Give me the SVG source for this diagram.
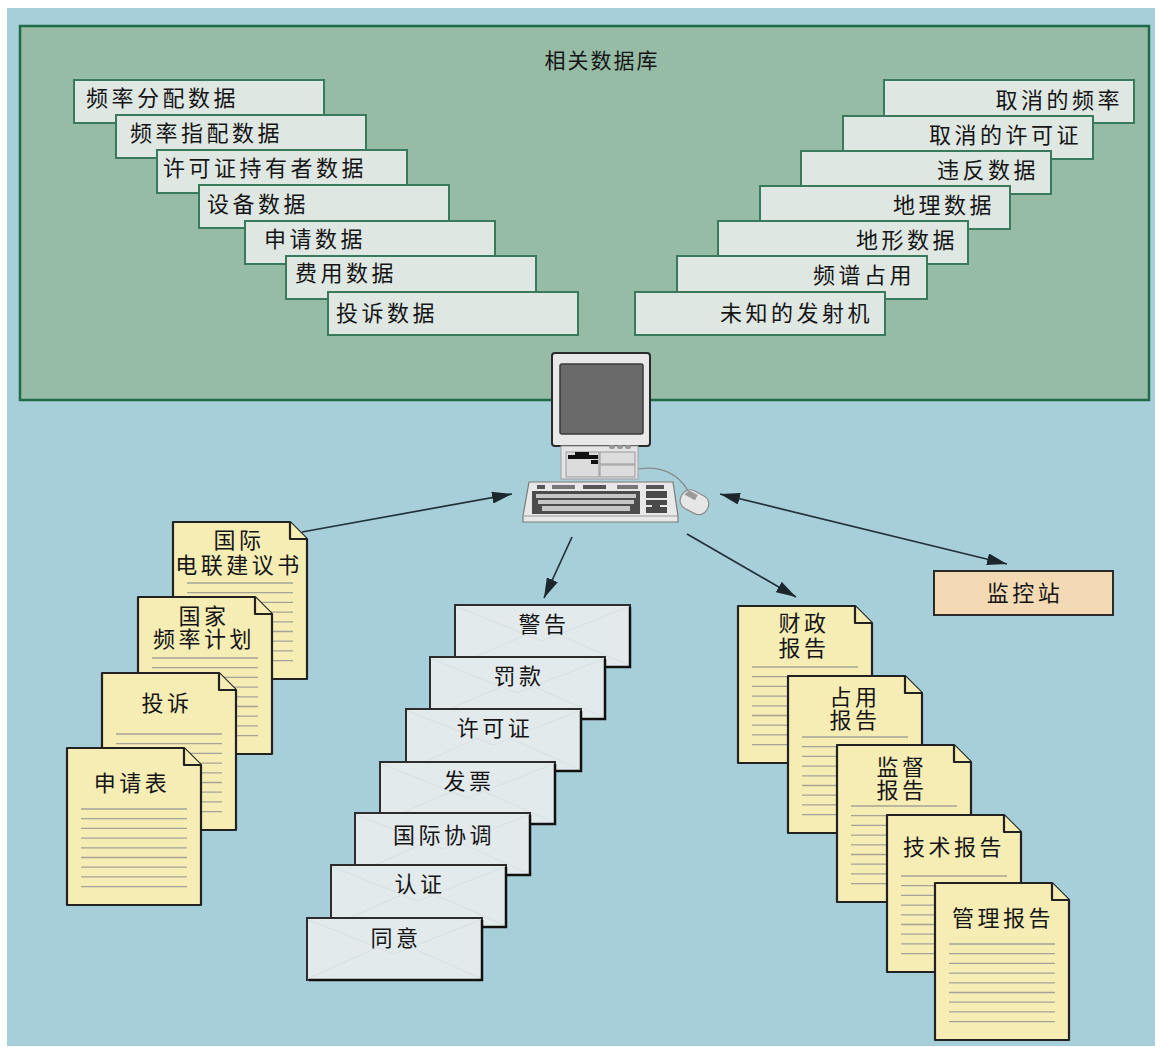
<svg xmlns="http://www.w3.org/2000/svg" width="1160" height="1047" viewBox="0 0 1160 1047">
  <style>
    text { font-family: "Noto Sans CJK SC", "Noto Sans", sans-serif; fill: #151515; }
    .t22 { font-size: 22px; letter-spacing: 3.5px; }
    .title { font-size: 21px; letter-spacing: 2px; }
    .db { fill: #dfe7e3; stroke: #3a7a5c; stroke-width: 2; }
    .env { fill: #e3eaec; stroke: #2c2c2c; stroke-width: 2; }
    .envln { stroke: #d8e0e3; stroke-width: 1; fill: none; }
    .doc { fill: #f6edb5; stroke: #222; stroke-width: 2.2; stroke-linejoin: round; }
    .docln { stroke: #a3a399; stroke-width: 1.3; }
    .conn { stroke: #22313a; stroke-width: 1.7; fill: none; }
  </style>
  <defs>
    <marker id="ah" viewBox="0 0 20 12" refX="20" refY="6" markerWidth="20" markerHeight="12" markerUnits="userSpaceOnUse" orient="auto-start-reverse">
      <path d="M0,0 L20,6 L0,12 Z" fill="#1b262d"/>
    </marker>
    <!-- paper sheet with a dog-eared corner and ruled lines -->
    <symbol id="sheet" viewBox="-2 -2 138 161" width="138" height="161" overflow="visible">
      <path class="doc" d="M0,0 H117 L134,17 V157 H0 Z"/>
      <path class="doc" d="M117,0 V17 H134"/>
      <g class="docln">
        <line x1="14" x2="120" y1="61" y2="61"/>
        <line x1="14" x2="120" y1="70.7" y2="70.7"/>
        <line x1="14" x2="120" y1="80.4" y2="80.4"/>
        <line x1="14" x2="120" y1="90.1" y2="90.1"/>
        <line x1="14" x2="120" y1="99.8" y2="99.8"/>
        <line x1="14" x2="120" y1="109.5" y2="109.5"/>
        <line x1="14" x2="120" y1="119.2" y2="119.2"/>
        <line x1="14" x2="120" y1="128.9" y2="128.9"/>
        <line x1="14" x2="120" y1="138.6" y2="138.6"/>
      </g>
    </symbol>
    <!-- envelope with faint flap creases -->
    <symbol id="envelope" viewBox="-2 -2 179 66" width="179" height="66" overflow="visible">
      <rect class="env" x="0" y="0" width="175" height="62"/>
      <path class="envln" d="M2,2 L87,36 L173,2 M2,60 L70,30 M173,60 L105,30"/>
      <path d="M175,2 V62 H2" stroke="#111" stroke-width="2.5" fill="none"/>
    </symbol>
  </defs>

  <!-- background -->
  <rect x="0" y="0" width="1160" height="1047" fill="#ffffff"/>
  <rect x="7" y="8" width="1148" height="1038" fill="#a7cfd9"/>

  <!-- database panel -->
  <g id="database-panel">
    <rect x="20" y="26" width="1129" height="374" fill="#97bca6" stroke="#1f6a48" stroke-width="2.5"/>
    <text class="title" x="602" y="68" text-anchor="middle">相关数据库</text>
  </g>

  <!-- left database stack -->
  <g id="db-freq-allocation"><rect class="db" x="74" y="80" width="250" height="43"/><text class="t22" x="86" y="106">频率分配数据</text></g>
  <g id="db-freq-assignment"><rect class="db" x="116" y="115" width="250" height="43"/><text class="t22" x="130" y="141">频率指配数据</text></g>
  <g id="db-licensees"><rect class="db" x="157" y="150" width="250" height="43"/><text class="t22" x="163" y="176">许可证持有者数据</text></g>
  <g id="db-equipment"><rect class="db" x="199" y="185" width="250" height="43"/><text class="t22" x="207" y="212">设备数据</text></g>
  <g id="db-applications"><rect class="db" x="245" y="221" width="250" height="43"/><text class="t22" x="264" y="247">申请数据</text></g>
  <g id="db-fees"><rect class="db" x="286" y="256" width="250" height="43"/><text class="t22" x="295" y="281">费用数据</text></g>
  <g id="db-complaints"><rect class="db" x="328" y="292" width="250" height="43"/><text class="t22" x="336" y="321">投诉数据</text></g>

  <!-- right database stack -->
  <g id="db-cancelled-freq"><rect class="db" x="884" y="80" width="250" height="43"/><text class="t22" x="1123" y="108" text-anchor="end">取消的频率</text></g>
  <g id="db-cancelled-licences"><rect class="db" x="843" y="116" width="250" height="43"/><text class="t22" x="1082" y="143" text-anchor="end">取消的许可证</text></g>
  <g id="db-violations"><rect class="db" x="801" y="151" width="250" height="43"/><text class="t22" x="1039" y="178" text-anchor="end">违反数据</text></g>
  <g id="db-geography"><rect class="db" x="760" y="186" width="250" height="43"/><text class="t22" x="995" y="213" text-anchor="end">地理数据</text></g>
  <g id="db-terrain"><rect class="db" x="718" y="221" width="250" height="43"/><text class="t22" x="958" y="248" text-anchor="end">地形数据</text></g>
  <g id="db-spectrum-occupancy"><rect class="db" x="677" y="256" width="250" height="43"/><text class="t22" x="915" y="283" text-anchor="end">频谱占用</text></g>
  <g id="db-unknown-tx"><rect class="db" x="635" y="292" width="250" height="43"/><text class="t22" x="873" y="321" text-anchor="end">未知的发射机</text></g>

  <!-- computer workstation -->
  <g id="computer">
    <!-- monitor -->
    <rect x="552" y="353" width="98" height="93" rx="3" fill="#e8e8e8" stroke="#2b2b2b" stroke-width="2"/>
    <rect x="560" y="364" width="83" height="70" rx="2" fill="#6a6a6a" stroke="#3a3a3a" stroke-width="1.5"/>
    <!-- system unit -->
    <rect x="561" y="446" width="77" height="33" fill="#e4e4e4" stroke="#a0a0a0" stroke-width="1"/>
    <ellipse cx="612" cy="447" rx="3" ry="2" fill="#999"/>
    <ellipse cx="620" cy="447" rx="3" ry="2" fill="#999"/>
    <ellipse cx="628" cy="447" rx="3" ry="2" fill="#999"/>
    <rect x="566" y="452" width="33" height="25" fill="#dcdcdc" stroke="#9a9a9a" stroke-width="1"/>
    <rect x="600" y="452" width="35" height="12" fill="#dcdcdc" stroke="#9a9a9a" stroke-width="1"/>
    <rect x="600" y="465" width="35" height="12" fill="#dcdcdc" stroke="#9a9a9a" stroke-width="1"/>
    <rect x="568" y="455" width="30" height="4" fill="#111"/>
    <rect x="575" y="452" width="14" height="3" fill="#111"/>
    <rect x="591" y="460" width="7" height="4" fill="#111"/>
    <!-- mouse cable -->
    <path d="M638,469 C660,465 679,474 688,491" stroke="#8a8a8a" stroke-width="1.2" fill="none"/>
    <!-- keyboard -->
    <path d="M529,482 H673 L678,516 V522 H523 V516 Z" fill="#e8e8e8" stroke="#7a7a7a" stroke-width="1.2"/>
    <line x1="523" y1="516" x2="678" y2="516" stroke="#9a9a9a" stroke-width="1"/>
    <rect x="537" y="485" width="8" height="4" fill="#555"/>
    <rect x="552" y="485" width="23" height="4" fill="#777"/>
    <rect x="583" y="485" width="23" height="4" fill="#555"/>
    <rect x="617" y="485" width="21" height="4" fill="#777"/>
    <rect x="646" y="485" width="18" height="4" fill="#555"/>
    <rect x="532" y="491" width="108" height="23" fill="#4c4c4c"/>
    <rect x="536" y="494" width="100" height="4" fill="#c6c6c6"/>
    <rect x="538" y="500" width="96" height="4" fill="#c6c6c6"/>
    <rect x="542" y="506" width="88" height="5" fill="#c6c6c6"/>
    <rect x="646" y="491" width="21" height="7" fill="#4a4a4a"/>
    <rect x="646" y="500" width="21" height="5" fill="#4a4a4a"/>
    <rect x="646" y="507" width="21" height="6" fill="#4a4a4a"/>
    <rect x="652" y="505" width="8" height="5" fill="#4a4a4a"/>
    <!-- mouse -->
    <g transform="rotate(28 694 502)">
      <rect x="680" y="492" width="29" height="20" rx="9" fill="#e6e6e6" stroke="#8a8a8a" stroke-width="1.2"/>
      <path d="M684,494 h10 v6 h-12 z" fill="#9a9a9a"/>
    </g>
  </g>

  <!-- connectors -->
  <g id="connectors">
    <line class="conn" x1="302" y1="532" x2="512" y2="494" marker-end="url(#ah)"/>
    <line class="conn" x1="572" y1="537" x2="544" y2="598" marker-end="url(#ah)"/>
    <line class="conn" x1="687" y1="534" x2="796" y2="597" marker-end="url(#ah)"/>
    <line class="conn" x1="720" y1="494" x2="1007" y2="564" marker-start="url(#ah)" marker-end="url(#ah)"/>
  </g>

  <!-- monitoring station -->
  <g id="monitoring-station">
    <rect x="934" y="571" width="179" height="44" fill="#f4dab4" stroke="#2a2a2a" stroke-width="2"/>
    <text class="t22" x="1025" y="601" text-anchor="middle">监控站</text>
  </g>

  <!-- incoming documents -->
  <g id="doc-itu-recommendations">
    <use href="#sheet" x="171" y="520"/>
    <text class="t22" text-anchor="middle"><tspan x="239" y="548">国际</tspan><tspan x="239" y="573">电联建议书</tspan></text>
  </g>
  <g id="doc-national-plan">
    <use href="#sheet" x="136" y="595"/>
    <text class="t22" text-anchor="middle"><tspan x="204" y="624">国家</tspan><tspan x="204" y="647">频率计划</tspan></text>
  </g>
  <g id="doc-complaint">
    <use href="#sheet" x="100" y="671"/>
    <text class="t22" x="167" y="711" text-anchor="middle">投诉</text>
  </g>
  <g id="doc-application-form">
    <use href="#sheet" x="65" y="746"/>
    <text class="t22" x="132" y="791" text-anchor="middle">申请表</text>
  </g>

  <!-- outgoing correspondence -->
  <g id="env-warning"><use href="#envelope" x="453" y="603"/><text class="t22" x="544" y="632" text-anchor="middle">警告</text></g>
  <g id="env-fine"><use href="#envelope" x="428" y="655"/><text class="t22" x="519" y="684" text-anchor="middle">罚款</text></g>
  <g id="env-licence"><use href="#envelope" x="404" y="707"/><text class="t22" x="495" y="736" text-anchor="middle">许可证</text></g>
  <g id="env-invoice"><use href="#envelope" x="378" y="760"/><text class="t22" x="469" y="789" text-anchor="middle">发票</text></g>
  <g id="env-coordination"><use href="#envelope" x="353" y="811"/><text class="t22" x="444" y="843" text-anchor="middle">国际协调</text></g>
  <g id="env-certification"><use href="#envelope" x="329" y="863"/><text class="t22" x="420" y="892" text-anchor="middle">认证</text></g>
  <g id="env-consent"><use href="#envelope" x="305" y="916"/><text class="t22" x="396" y="946" text-anchor="middle">同意</text></g>

  <!-- reports -->
  <g id="rep-financial">
    <use href="#sheet" x="736" y="604"/>
    <text class="t22" text-anchor="middle"><tspan x="804" y="631">财政</tspan><tspan x="804" y="656">报告</tspan></text>
  </g>
  <g id="rep-occupancy">
    <use href="#sheet" x="786" y="674"/>
    <text class="t22" text-anchor="middle"><tspan x="855" y="705">占用</tspan><tspan x="855" y="728">报告</tspan></text>
  </g>
  <g id="rep-monitoring">
    <use href="#sheet" x="835" y="743"/>
    <text class="t22" text-anchor="middle"><tspan x="902" y="775">监督</tspan><tspan x="902" y="798">报告</tspan></text>
  </g>
  <g id="rep-technical">
    <use href="#sheet" x="885" y="813"/>
    <text class="t22" x="954" y="855" text-anchor="middle">技术报告</text>
  </g>
  <g id="rep-management">
    <use href="#sheet" x="933" y="881"/>
    <text class="t22" x="1003" y="926" text-anchor="middle">管理报告</text>
  </g>
</svg>
